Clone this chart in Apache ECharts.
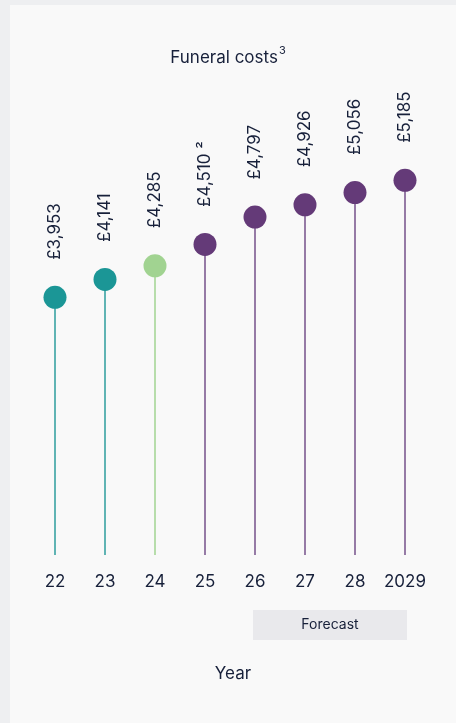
<!DOCTYPE html>
<html>
<head>
<meta charset="utf-8">
<script src="https://cdn.jsdelivr.net/npm/echarts@6/dist/echarts.min.js"></script>
<style>
  html, body { margin: 0; padding: 0; background: #eeeff1; }
  #main { width: 456px; height: 723px; }
</style>
</head>
<body>
<div id="main"></div>
<script>
// data
const years = ['22', '23', '24', '25', '26', '27', '28', '2029'];
const costs = [3953, 4141, 4285, 4510, 4797, 4926, 5056, 5185];
const footnotes = ['', '', '', ' ²', '', '', '', ''];
const dotColors = ['#1b9696', '#1b9696', '#a1d391', '#643a78', '#643a78', '#643a78', '#643a78', '#643a78'];
const stemColors = ['#2c9c9c', '#2c9c9c', '#a1d391', '#74508a', '#74508a', '#74508a', '#74508a', '#74508a'];

const textColor = '#17203a';
const font = 'Inter, "Noto Sans", sans-serif';

let chart = echarts.init(document.getElementById('main'));

const option = {
  backgroundColor: '#eeeff1',
  animation: false,
  textStyle: { fontFamily: font, color: textColor },
  graphic: [
    {
      type: 'rect', z: -10, silent: true,
      shape: { x: 10, y: 5, width: 446, height: 718 },
      style: { fill: '#f9f9f9' }
    },
    {
      type: 'text', left: 'center', top: 45,
      style: {
        text: '{t|Funeral costs}{s|3}',
        rich: {
          t: { fontSize: 17, fontFamily: font, fill: textColor, padding: [4, 0, 0, 0] },
          s: { fontSize: 11, fontFamily: font, fill: textColor, verticalAlign: 'top', padding: [0, 0, 8, 1] }
        }
      },
      x: 11
    },
    {
      type: 'rect', silent: true,
      shape: { x: 253, y: 610, width: 154, height: 30 },
      style: { fill: '#e9e9ec' }
    },
    {
      type: 'text', x: 330, y: 625,
      style: { text: 'Forecast', fontSize: 14, fontFamily: font, fill: textColor, align: 'center', verticalAlign: 'middle' }
    },
    {
      type: 'text', x: 233, y: 674,
      style: { text: 'Year', fontSize: 17, fontFamily: font, fill: textColor, align: 'center', verticalAlign: 'middle' }
    }
  ],
  grid: { left: 30, right: 26, top: 100, bottom: 168 },
  xAxis: {
    type: 'category',
    data: years,
    axisLine: { show: false },
    axisTick: { show: false },
    axisLabel: { interval: 0, color: textColor, fontSize: 17, fontFamily: font, margin: 18 }
  },
  yAxis: {
    type: 'value',
    min: 1240,
    max: 6030,
    show: false,
    splitLine: { show: false }
  },
  series: [
    {
      type: 'bar',
      barWidth: 1.5,
      data: costs.map((v, i) => ({ value: v, itemStyle: { color: stemColors[i] } })),
      silent: true
    },
    {
      type: 'scatter',
      symbolSize: 23,
      z: 5,
      data: costs.map((v, i) => ({ value: v, itemStyle: { color: dotColors[i], opacity: 1 } })),
      label: {
        show: true,
        position: 'top',
        distance: 26,
        rotate: 90,
        align: 'left',
        verticalAlign: 'middle',
        fontSize: 17,
        fontFamily: font,
        color: textColor,
        formatter: function (p) {
          return '£' + p.value.toLocaleString('en-GB') + footnotes[p.dataIndex];
        }
      }
    }
  ]
};

chart.setOption(option);
</script>
</body>
</html>
